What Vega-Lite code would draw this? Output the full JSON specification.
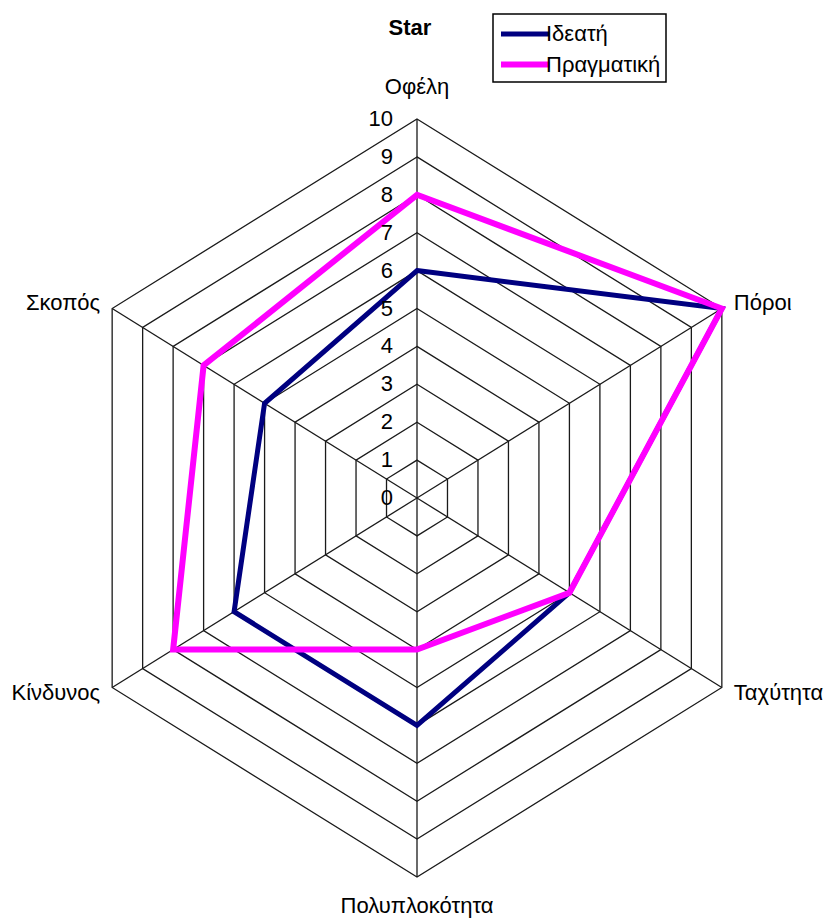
{
  "$schema": "https://vega.github.io/schema/vega-lite/v6.json",
  "width": 704,
  "height": 758,
  "autosize": {"type": "none"},
  "padding": {"left": 65, "top": 119, "right": 62, "bottom": 46},
  "background": "white",
  "title": {"text": "Star", "font": "Liberation Sans", "fontSize": 22, "fontWeight": "bold", "color": "black", "anchor": "middle", "frame": "group", "offset": -27, "dx": -7},
  "config": {
    "view": {"stroke": null},
    "font": "Liberation Sans",
    "legend": {
      "orient": "none", "legendX": 428, "legendY": -105,
      "title": null, "strokeColor": "black", "strokeWidth": 1.5, "padding": 5,
      "symbolType": "M-1,0H2.9", "symbolSize": 625, "labelFontSize": 22,
      "labelFont": "Liberation Sans", "labelColor": "black", "labelOffset": 17,
      "rowPadding": 4, "fillColor": "white", "cornerRadius": 0
    }
  },
  "datasets": {
    "series": [
      {"series": "Ιδεατή", "axis": "Οφέλη", "k": 0, "value": 6},
      {"series": "Ιδεατή", "axis": "Πόροι", "k": 1, "value": 10},
      {"series": "Ιδεατή", "axis": "Ταχύτητα", "k": 2, "value": 5},
      {"series": "Ιδεατή", "axis": "Πολυπλοκότητα", "k": 3, "value": 6},
      {"series": "Ιδεατή", "axis": "Κίνδυνος", "k": 4, "value": 6},
      {"series": "Ιδεατή", "axis": "Σκοπός", "k": 5, "value": 5},
      {"series": "Πραγματική", "axis": "Οφέλη", "k": 0, "value": 8},
      {"series": "Πραγματική", "axis": "Πόροι", "k": 1, "value": 10},
      {"series": "Πραγματική", "axis": "Ταχύτητα", "k": 2, "value": 5},
      {"series": "Πραγματική", "axis": "Πολυπλοκότητα", "k": 3, "value": 4},
      {"series": "Πραγματική", "axis": "Κίνδυνος", "k": 4, "value": 8},
      {"series": "Πραγματική", "axis": "Σκοπός", "k": 5, "value": 7}
    ],
    "rings": [
      {"k": 0, "levels": [1, 2, 3, 4, 5, 6, 7, 8, 9, 10]},
      {"k": 1, "levels": [1, 2, 3, 4, 5, 6, 7, 8, 9, 10]},
      {"k": 2, "levels": [1, 2, 3, 4, 5, 6, 7, 8, 9, 10]},
      {"k": 3, "levels": [1, 2, 3, 4, 5, 6, 7, 8, 9, 10]},
      {"k": 4, "levels": [1, 2, 3, 4, 5, 6, 7, 8, 9, 10]},
      {"k": 5, "levels": [1, 2, 3, 4, 5, 6, 7, 8, 9, 10]}
    ],
    "axes": [
      {"name": "Οφέλη", "k": 0, "r": 10},
      {"name": "Πόροι", "k": 1, "r": 10},
      {"name": "Ταχύτητα", "k": 2, "r": 10},
      {"name": "Πολυπλοκότητα", "k": 3, "r": 10},
      {"name": "Κίνδυνος", "k": 4, "r": 10},
      {"name": "Σκοπός", "k": 5, "r": 10}
    ],
    "ticks": [
      {"tick": 0}, {"tick": 1}, {"tick": 2}, {"tick": 3}, {"tick": 4}, {"tick": 5},
      {"tick": 6}, {"tick": 7}, {"tick": 8}, {"tick": 9}, {"tick": 10}
    ]
  },
  "layer": [
    {
      "data": {"name": "rings"},
      "transform": [
        {"flatten": ["levels"]},
        {"calculate": "datum.levels * sin(datum.k * PI / 3)", "as": "x"},
        {"calculate": "datum.levels * cos(datum.k * PI / 3)", "as": "y"}
      ],
      "mark": {"type": "line", "interpolate": "linear-closed", "color": "#1a1a1a", "strokeWidth": 1.3},
      "encoding": {
        "x": {"field": "x", "type": "quantitative", "scale": {"domain": [-10, 10], "nice": false, "zero": false}, "axis": null},
        "y": {"field": "y", "type": "quantitative", "scale": {"domain": [-10, 10], "nice": false, "zero": false}, "axis": null},
        "detail": {"field": "levels", "type": "nominal"},
        "order": {"field": "k", "type": "quantitative"}
      }
    },
    {
      "data": {"name": "axes"},
      "transform": [
        {"calculate": "datum.r * sin(datum.k * PI / 3)", "as": "x"},
        {"calculate": "datum.r * cos(datum.k * PI / 3)", "as": "y"}
      ],
      "mark": {"type": "rule", "color": "#1a1a1a", "strokeWidth": 1.3},
      "encoding": {
        "x": {"field": "x", "type": "quantitative"},
        "y": {"field": "y", "type": "quantitative"},
        "x2": {"datum": 0},
        "y2": {"datum": 0}
      }
    },
    {
      "data": {"name": "series"},
      "transform": [
        {"calculate": "datum.value * sin(datum.k * PI / 3)", "as": "x"},
        {"calculate": "datum.value * cos(datum.k * PI / 3)", "as": "y"}
      ],
      "mark": {"type": "line", "interpolate": "linear-closed", "strokeJoin": "miter"},
      "encoding": {
        "x": {"field": "x", "type": "quantitative"},
        "y": {"field": "y", "type": "quantitative"},
        "color": {"field": "series", "type": "nominal", "scale": {"domain": ["Ιδεατή", "Πραγματική"], "range": ["#000080", "#ff00ff"]}},
        "strokeWidth": {"field": "series", "type": "nominal", "scale": {"domain": ["Ιδεατή", "Πραγματική"], "range": [5, 6]}},
        "order": {"field": "k", "type": "quantitative"}
      }
    },
    {
      "data": {"name": "ticks"},
      "mark": {"type": "text", "align": "right", "baseline": "middle", "dx": -24, "fontSize": 22, "font": "Liberation Sans", "color": "black"},
      "encoding": {
        "x": {"datum": 0},
        "y": {"field": "tick", "type": "quantitative"},
        "text": {"field": "tick", "type": "quantitative"}
      }
    },
    {
      "data": {"name": "axes"},
      "transform": [
        {"filter": "datum.k == 0"},
        {"calculate": "datum.r * sin(datum.k * PI / 3)", "as": "x"},
        {"calculate": "datum.r * cos(datum.k * PI / 3)", "as": "y"}
      ],
      "mark": {"type": "text", "align": "center", "baseline": "middle", "dy": -32, "fontSize": 22, "font": "Liberation Sans", "color": "black"},
      "encoding": {"x": {"field": "x", "type": "quantitative"}, "y": {"field": "y", "type": "quantitative"}, "text": {"field": "name"}}
    },
    {
      "data": {"name": "axes"},
      "transform": [
        {"filter": "datum.k == 3"},
        {"calculate": "datum.r * sin(datum.k * PI / 3)", "as": "x"},
        {"calculate": "datum.r * cos(datum.k * PI / 3)", "as": "y"}
      ],
      "mark": {"type": "text", "align": "center", "baseline": "middle", "dy": 29, "fontSize": 22, "font": "Liberation Sans", "color": "black"},
      "encoding": {"x": {"field": "x", "type": "quantitative"}, "y": {"field": "y", "type": "quantitative"}, "text": {"field": "name"}}
    },
    {
      "data": {"name": "axes"},
      "transform": [
        {"filter": "datum.k == 1"},
        {"calculate": "datum.r * sin(datum.k * PI / 3)", "as": "x"},
        {"calculate": "datum.r * cos(datum.k * PI / 3)", "as": "y"}
      ],
      "mark": {"type": "text", "align": "left", "baseline": "middle", "dx": 12, "dy": -6, "fontSize": 22, "font": "Liberation Sans", "color": "black"},
      "encoding": {"x": {"field": "x", "type": "quantitative"}, "y": {"field": "y", "type": "quantitative"}, "text": {"field": "name"}}
    },
    {
      "data": {"name": "axes"},
      "transform": [
        {"filter": "datum.k == 2"},
        {"calculate": "datum.r * sin(datum.k * PI / 3)", "as": "x"},
        {"calculate": "datum.r * cos(datum.k * PI / 3)", "as": "y"}
      ],
      "mark": {"type": "text", "align": "left", "baseline": "middle", "dx": 12, "dy": 5, "fontSize": 22, "font": "Liberation Sans", "color": "black"},
      "encoding": {"x": {"field": "x", "type": "quantitative"}, "y": {"field": "y", "type": "quantitative"}, "text": {"field": "name"}}
    },
    {
      "data": {"name": "axes"},
      "transform": [
        {"filter": "datum.k == 4"},
        {"calculate": "datum.r * sin(datum.k * PI / 3)", "as": "x"},
        {"calculate": "datum.r * cos(datum.k * PI / 3)", "as": "y"}
      ],
      "mark": {"type": "text", "align": "right", "baseline": "middle", "dx": -12, "dy": 5, "fontSize": 22, "font": "Liberation Sans", "color": "black"},
      "encoding": {"x": {"field": "x", "type": "quantitative"}, "y": {"field": "y", "type": "quantitative"}, "text": {"field": "name"}}
    },
    {
      "data": {"name": "axes"},
      "transform": [
        {"filter": "datum.k == 5"},
        {"calculate": "datum.r * sin(datum.k * PI / 3)", "as": "x"},
        {"calculate": "datum.r * cos(datum.k * PI / 3)", "as": "y"}
      ],
      "mark": {"type": "text", "align": "right", "baseline": "middle", "dx": -12, "dy": -6, "fontSize": 22, "font": "Liberation Sans", "color": "black"},
      "encoding": {"x": {"field": "x", "type": "quantitative"}, "y": {"field": "y", "type": "quantitative"}, "text": {"field": "name"}}
    }
  ]
}
